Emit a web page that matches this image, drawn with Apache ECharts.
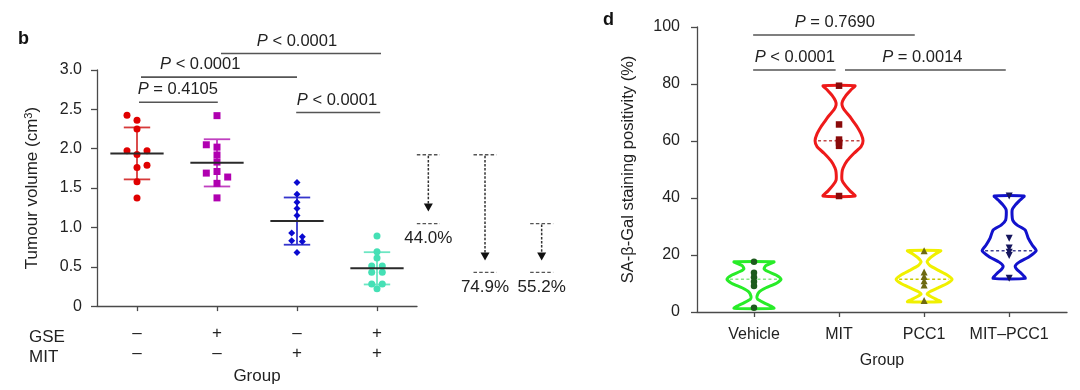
<!DOCTYPE html>
<html><head><meta charset="utf-8">
<script src="https://cdn.jsdelivr.net/npm/echarts@6/dist/echarts.min.js"></script>
<style>html,body{margin:0;padding:0;background:#fff}#c{width:1080px;height:390px}</style>
</head><body><div id="c"></div>
<script>
// ===== Panel b data =====
const gseRow = ['–', '+', '–', '+'];
const mitRow = ['–', '–', '+', '+'];
const rowTitles = ['GSE', 'MIT'];
const volG1 = [2.425, 2.36, 2.25, 1.975, 1.975, 1.925, 1.79, 1.76, 1.58, 1.375];
const volG2 = [2.42, 2.05, 2.02, 1.92, 1.83, 1.71, 1.69, 1.64, 1.56, 1.375];
const volG3 = [1.57, 1.42, 1.32, 1.24, 1.15, 0.93, 0.88, 0.83, 0.82, 0.68];
const volG4 = [0.89, 0.69, 0.61, 0.51, 0.51, 0.43, 0.43, 0.28, 0.28, 0.22];
// jitter column of each point (-1 left, 0 centre, 1 right)
const colG1 = [-1, 0, 0, -1, 1, 0, 1, 0, 0, 0];
const colG2 = [0, -1, 0, 0, 0, 0, -1, 1, 0, 0];
const colG3 = [0, 0, 0, 0, 0, -1, 1, -1, 1, 0];
const colG4 = [0, 0, 0, -1, 1, -1, 1, -1, 1, 0];
const meansB = [1.94, 1.82, 1.08, 0.48];
const sdB = [0.33, 0.30, 0.30, 0.205];
const yTicksB = [0, 0.5, 1.0, 1.5, 2.0, 2.5, 3.0];
// significance brackets: [from group, to group, height, label, label position]
const sigB = [
  [1.025, 2.01, 2.59, '= 0.4105', 1.51],
  [1.05, 3.0, 2.91, '< 0.0001', 1.79],
  [2.05, 4.05, 3.21, '< 0.0001', 3.0],
  [2.99, 4.04, 2.46, '< 0.0001', 3.5]
];
// reductions: from mean, to mean, label
const dropFrom = [1.94, 1.94, 1.08];
const dropTo = [1.08, 0.47, 0.47];
const dropLabels = ['44.0%', '74.9%', '55.2%'];

// ===== Panel d data =====
const catsD = ['Vehicle', 'MIT', 'PCC1', 'MIT–PCC1'];
const yTicksD = [0, 20, 40, 60, 80, 100];
const ptsVehicle = [17.6, 13.8, 12.2, 10.6, 9.1, 1.5];
const ptsMIT = [79.4, 65.8, 60.5, 59.5, 58.3, 40.7];
const ptsPCC1 = [21.5, 14.0, 12.5, 11.0, 9.5, 4.0];
const ptsMITPCC1 = [40.7, 25.9, 22.5, 21.0, 19.8, 11.8];
const mediansD = [11.5, 60.1, 11.5, 21.5];
// violin outlines: [value, half width in group units], top to bottom
const violinVehicle = [[17.6,.235],[16.3,.141],[15.2,.118],[14.2,.165],[13,.259],[11.5,.318],[10,.259],[8.5,.141],[7,.059],[5.5,.035],[4.5,.041],[3.2,.118],[2.2,.188],[1.3,.235]];
const violinMIT = [[79.4,.188],[78,.141],[76,.082],[74,.041],[72.6,.035],[71,.059],[68.5,.129],[66.5,.176],[65,.212],[62.5,.259],[60.1,.282],[58,.259],[55.7,.176],[53,.094],[50.5,.047],[49,.035],[46.3,.035],[44.5,.071],[42.5,.129],[40.7,.188]];
const violinPCC1 = [[21.5,.196],[20.3,.129],[19,.071],[17.6,.035],[16.2,.071],[14.5,.176],[13,.271],[11.5,.329],[10,.271],[8.5,.165],[7.2,.071],[6.3,.035],[5.2,.094],[4.3,.153],[3.6,.196]];
const violinMITPCC1 = [[40.7,.176],[39.3,.129],[37.5,.071],[35.8,.035],[32.3,.041],[30.5,.094],[28.8,.188],[25.9,.224],[23.5,.271],[21.5,.318],[19.4,.235],[17.5,.118],[16.1,.071],[14.8,.094],[13.6,.141],[11.8,.188]];

const FONT = '"Liberation Sans", Arial, Helvetica, sans-serif';
const AX = '#4a4a4a';
const TXT = '#222';
const JIT = 10;

const chart = echarts.init(document.getElementById('c'));

function scatterB(vals, cols, x, color, symbol, size, jit) {
  return {
    type: 'scatter', xAxisIndex: 0, yAxisIndex: 0, symbol: symbol, symbolSize: size, z: 3,
    itemStyle: { color: color, opacity: 1 }, silent: true,
    data: vals.map((v, i) => ({ value: [x, v], symbolOffset: [cols[i] * jit, 0] }))
  };
}
function scatterD(vals, x, color, symbol, size, rot) {
  return {
    type: 'scatter', xAxisIndex: 1, yAxisIndex: 1, symbol: symbol, symbolSize: size, symbolRotate: rot || 0, z: 4,
    itemStyle: { color: color, opacity: 1 }, silent: true,
    data: vals.map(v => [x, v])
  };
}
function sigSeries(list, xi, yi, font) {
  return {
    type: 'custom', xAxisIndex: xi, yAxisIndex: yi, clip: false, silent: true, z: 5,
    data: list.map(s => [s[0], s[1], s[2], s[4]]),
    renderItem(params, api) {
      const a = api.coord([api.value(0), api.value(2)]);
      const b = api.coord([api.value(1), api.value(2)]);
      const t = api.coord([api.value(3), api.value(2)]);
      return { type: 'group', children: [
        { type: 'line', shape: { x1: a[0], y1: a[1], x2: b[0], y2: b[1] }, style: { stroke: '#555', lineWidth: 1.6 } },
        { type: 'text', style: { text: '{i|P} ' + list[params.dataIndex][3], x: t[0], y: a[1] - 12.5, align: 'center', verticalAlign: 'middle',
          fill: TXT, font: font, rich: { i: { fontStyle: 'italic', font: 'italic ' + font, fill: TXT } } } }
      ] };
    }
  };
}

const bColors = ['#e00000', '#b000b0', '#0a0ad0', '#45e0b5'];
const bBarColors = ['#d63a3a', '#c040c0', '#3535cc', '#6de6c3'];

const violins = [violinVehicle, violinMIT, violinPCC1, violinMITPCC1];
const vColors = ['#28ec28', '#ee1a1a', '#f0f000', '#1212cc'];
const vMedColors = ['#86e886', '#c04848', '#c8c800', '#404090'];

function halfAt(prof, v) {
  for (let i = 0; i < prof.length - 1; i++) {
    const [v1, h1] = prof[i], [v2, h2] = prof[i + 1];
    if (v <= v1 && v >= v2) return h1 + (h2 - h1) * (v1 - v) / (v1 - v2);
  }
  return 0.2;
}

const option = {
  animation: false,
  backgroundColor: '#fff',
  textStyle: { fontFamily: FONT },
  grid: [
    { left: 97, top: 70, width: 320, height: 240 },
    { left: 697, top: 27, width: 370, height: 285 },
    { left: 400, top: 70, width: 170, height: 240 }
  ],
  xAxis: [
    { gridIndex: 0, type: 'value', min: 0.5, max: 4.5,
      axisLine: { show: true, lineStyle: { color: AX, width: 1.3 } },
      axisTick: { show: true, customValues: [1, 2, 3, 4], length: 5, lineStyle: { color: AX, width: 1.3 } },
      axisLabel: { show: true, customValues: [1, 2, 3, 4], margin: 17, lineHeight: 20, fontSize: 17, color: TXT, fontFamily: FONT,
        formatter: v => gseRow[Math.round(v) - 1] + '\n' + mitRow[Math.round(v) - 1] },
      splitLine: { show: false },
      name: 'Group', nameLocation: 'middle', nameGap: 59, nameTextStyle: { fontSize: 17, color: TXT, fontFamily: FONT } },
    { gridIndex: 1, type: 'value', min: 0.33, max: 4.68,
      axisLine: { show: true, lineStyle: { color: AX, width: 1.3 } },
      axisTick: { show: true, customValues: [1, 2, 3, 4], length: 5, lineStyle: { color: AX, width: 1.3 } },
      axisLabel: { show: true, customValues: [1, 2, 3, 4], margin: 15, fontSize: 16, color: TXT, fontFamily: FONT,
        formatter: v => catsD[Math.round(v) - 1] },
      splitLine: { show: false },
      name: 'Group', nameLocation: 'middle', nameGap: 41, nameTextStyle: { fontSize: 16, color: TXT, fontFamily: FONT } },
    { gridIndex: 2, type: 'value', min: 0.5, max: 3.5, show: false }
  ],
  yAxis: [
    { gridIndex: 0, type: 'value', min: 0, max: 3, interval: 0.5,
      axisLine: { show: true, lineStyle: { color: AX, width: 1.3 } },
      axisTick: { show: true, length: 6, lineStyle: { color: AX, width: 1.3 } },
      axisLabel: { margin: 15, fontSize: 16, color: TXT, fontFamily: FONT,
        formatter: v => { const t = yTicksB.find(q => Math.abs(q - v) < 1e-6); return t === 0 ? '0' : t.toFixed(1); } },
      splitLine: { show: false },
      name: 'Tumour volume (cm{sup|3})', nameLocation: 'middle', nameGap: 55, nameRotate: 90,
      nameTextStyle: { fontSize: 17, color: TXT, fontFamily: FONT, rich: { sup: { fontSize: 11, verticalAlign: 'top', padding: [0, 0, 8, 0], color: TXT } } } },
    { gridIndex: 1, type: 'value', min: 0, max: 100, interval: 20,
      axisLine: { show: true, lineStyle: { color: AX, width: 1.3 } },
      axisTick: { show: true, length: 6, lineStyle: { color: AX, width: 1.3 } },
      axisLabel: { margin: 17, fontSize: 16, color: TXT, fontFamily: FONT },
      splitLine: { show: false },
      name: 'SA-β-Gal staining positivity (%)', nameLocation: 'middle', nameGap: 60, nameRotate: 90,
      nameTextStyle: { fontSize: 16.5, color: TXT, fontFamily: FONT } },
    { gridIndex: 2, type: 'value', min: 0, max: 3, show: false }
  ],
  graphic: [
    { type: 'text', left: 18, top: 30, style: { text: 'b', font: 'bold 18px ' + FONT, fill: '#111' } },
    { type: 'text', left: 603, top: 11, style: { text: 'd', font: 'bold 18px ' + FONT, fill: '#111' } },
    { type: 'text', left: 29, top: 327, style: { text: rowTitles.join('\n'), font: '17px ' + FONT, lineHeight: 20, fill: TXT } }
  ],
  series: [
    // error bars + means (panel b)
    { type: 'custom', xAxisIndex: 0, yAxisIndex: 0, z: 2, silent: true, clip: false,
      data: meansB.map((m, i) => [i + 1, m, sdB[i]]),
      renderItem(params, api) {
        const x = api.value(0), m = api.value(1), s = api.value(2);
        const c = bBarColors[params.dataIndex];
        const top = api.coord([x, m + s]), bot = api.coord([x, m - s]);
        const capL = api.coord([x - 0.165, m + s])[0], capR = api.coord([x + 0.165, m + s])[0];
        const st = { stroke: c, lineWidth: 1.8 };
        return { type: 'group', children: [
          { type: 'line', shape: { x1: top[0], y1: top[1], x2: bot[0], y2: bot[1] }, style: st },
          { type: 'line', shape: { x1: capL, y1: top[1], x2: capR, y2: top[1] }, style: st },
          { type: 'line', shape: { x1: capL, y1: bot[1], x2: capR, y2: bot[1] }, style: st }
        ] };
      } },
    scatterB(volG1, colG1, 1, bColors[0], 'circle', 7, JIT),
    scatterB(volG2, colG2, 2, bColors[1], 'rect', 7, 10.7),
    scatterB(volG3, colG3, 3, bColors[2], 'diamond', 7, 5.3),
    scatterB(volG4, colG4, 4, bColors[3], 'circle', 7, 5.3),
    { type: 'custom', xAxisIndex: 0, yAxisIndex: 0, z: 4, silent: true, clip: false,
      data: meansB.map((m, i) => [i + 1, m]),
      renderItem(params, api) {
        const l = api.coord([api.value(0) - 0.333, api.value(1)]);
        const r = api.coord([api.value(0) + 0.333, api.value(1)]);
        return { type: 'line', shape: { x1: l[0], y1: l[1], x2: r[0], y2: r[1] }, style: { stroke: '#2a2a2a', lineWidth: 2 } };
      } },
    sigSeries(sigB, 0, 0, '16.5px ' + FONT),
    // reduction arrows
    { type: 'custom', xAxisIndex: 2, yAxisIndex: 2, z: 3, silent: true, clip: false,
      data: dropFrom.map((f, i) => [i + 1, f, dropTo[i]]),
      renderItem(params, api) {
        const p1 = api.coord([api.value(0), api.value(1)]);
        const p2 = api.coord([api.value(0), api.value(2)]);
        const x = p1[0], hw = 11.5, tip = p2[1] - 12;
        const dash = { stroke: '#555', lineWidth: 1.4, lineDash: [3.5, 2.2] };
        return { type: 'group', children: [
          { type: 'line', shape: { x1: x - hw, y1: p1[1], x2: x + hw, y2: p1[1] }, style: dash },
          { type: 'line', shape: { x1: x - hw, y1: p2[1], x2: x + hw, y2: p2[1] }, style: dash },
          { type: 'line', shape: { x1: x, y1: p1[1] + 1, x2: x, y2: tip - 6 }, style: { stroke: '#333', lineWidth: 1.5, lineDash: [2.5, 1.6] } },
          { type: 'polygon', shape: { points: [[x - 4.5, tip - 8], [x + 4.5, tip - 8], [x, tip]] }, style: { fill: '#111' } },
          { type: 'text', style: { text: dropLabels[params.dataIndex], x: x, y: p2[1] + 15, align: 'center', verticalAlign: 'middle', font: '17px ' + FONT, fill: TXT } }
        ] };
      } },
    // violins (panel d)
    { type: 'custom', xAxisIndex: 1, yAxisIndex: 1, z: 2, silent: true, clip: false,
      data: mediansD.map((m, i) => [i + 1, m]),
      renderItem(params, api) {
        const gi = params.dataIndex, x = api.value(0), med = api.value(1);
        const prof = violins[gi];
        const right = prof.map(([v, h]) => api.coord([x + h, v]));
        const left = prof.slice().reverse().map(([v, h]) => api.coord([x - h, v]));
        const hm = halfAt(prof, med);
        const ml = api.coord([x - hm, med]), mr = api.coord([x + hm, med]);
        return { type: 'group', children: [
          { type: 'line', shape: { x1: ml[0] + 3, y1: ml[1], x2: mr[0] - 3, y2: mr[1] }, style: { stroke: vMedColors[gi], lineWidth: 1.4, lineDash: [3, 2.5] } },
          { type: 'polygon', shape: { points: right.concat(left), smooth: 0.2 }, style: { fill: 'none', stroke: vColors[gi], lineWidth: 3, lineJoin: 'round' } }
        ] };
      } },
    scatterD(ptsVehicle, 1, '#1d5a1d', 'circle', 6.5),
    scatterD(ptsMIT, 2, '#8a0a0a', 'rect', 6.5),
    scatterD(ptsPCC1, 3, '#6e6a12', 'triangle', 7),
    scatterD(ptsMITPCC1, 4, '#15155e', 'triangle', 7, 180),
    sigSeries([
      [0.99, 2.89, 97.2, '= 0.7690', 1.95],
      [0.99, 1.96, 84.9, '< 0.0001', 1.48],
      [2.07, 3.96, 84.9, '= 0.0014', 2.98]
    ], 1, 1, '16.5px ' + FONT)
  ]
};
chart.setOption(option);
</script>
</body></html>
